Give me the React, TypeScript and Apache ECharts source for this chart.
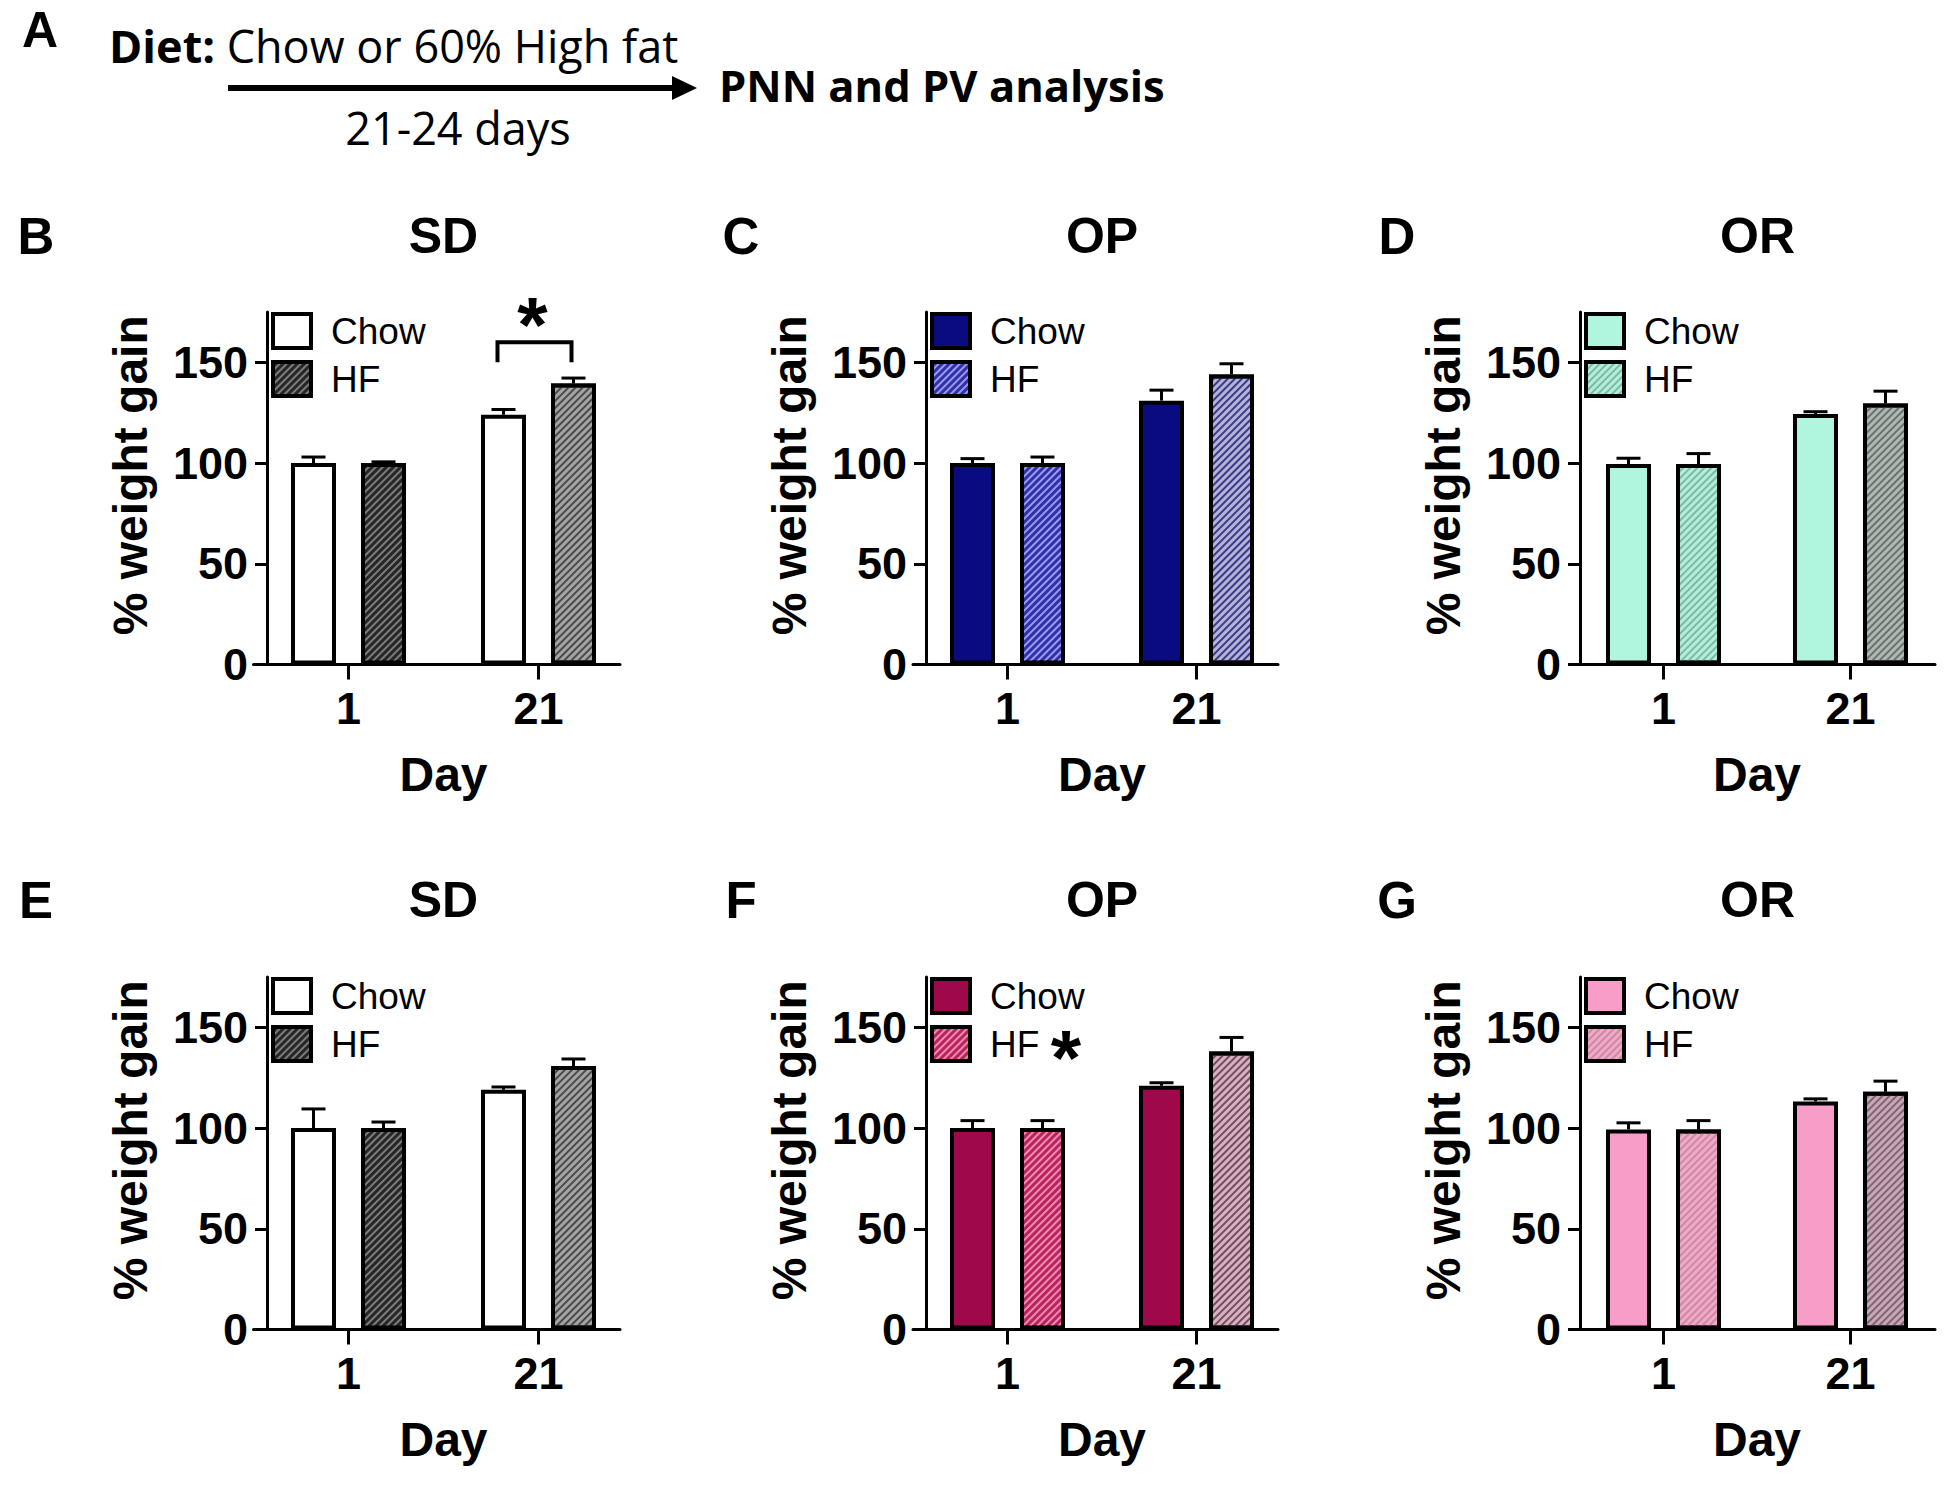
import React, { useEffect, useRef } from 'react';
import * as echarts from 'echarts';

// ---------------- data ----------------
const days = ['1', '21'];
const yTickValues = [0, 50, 100, 150];

const chowB = [100, 124];
const chowErrB = [3, 2.6];
const hfB = [100, 139.5];
const hfErrB = [0.6, 2.7];

const chowC = [100, 131];
const chowErrC = [2.2, 5.2];
const hfC = [100, 144];
const hfErrC = [3, 5.3];

const chowD = [99.5, 124.3];
const chowErrD = [2.9, 1.2];
const hfD = [99.5, 129.6];
const hfErrD = [5.2, 6.1];

const chowE = [100, 119];
const chowErrE = [9.5, 1.4];
const hfE = [100, 130.8];
const hfErrE = [3, 3.5];

const chowF = [100, 121];
const chowErrF = [3.7, 1.5];
const hfF = [100, 138];
const hfErrF = [3.7, 7];

const chowG = [99.3, 113.2];
const chowErrG = [3.3, 1.3];
const hfG = [99.3, 118];
const hfErrG = [4.4, 5.3];

// colours: chow fill, HF background per day, HF stripe per day
const sdChow = ['#ffffff', '#ffffff'];
const sdHfBg = ['#262626', '#a4a4a4'];
const sdHfStripe = ['#7c7c7c', '#4a4a4a'];
const opHfdChow = ['#0b0b80', '#0b0b80'];
const opHfdHfBg = ['#3030a8', '#b4b4d8'];
const opHfdHfStripe = ['#9a9af0', '#3a3a88'];
const orHfdChow = ['#b0f5de', '#b0f5de'];
const orHfdHfBg = ['#b0f0da', '#b0b8b4'];
const orHfdHfStripe = ['#80b8a4', '#6a726e'];
const opHfsChow = ['#a0084c', '#a0084c'];
const opHfsHfBg = ['#b8245e', '#d4b4c2'];
const opHfsHfStripe = ['#f08ab0', '#7a4a60'];
const orHfsChow = ['#f89cc8', '#f89cc8'];
const orHfsHfBg = ['#f4a8c8', '#c8a8b8'];
const orHfsHfStripe = ['#c88aa4', '#7e6674'];

const PANELS = [
  { letter: 'B', title: 'SD', col: 0, row: 0, chow: chowB, chowErr: chowErrB, hf: hfB, hfErr: hfErrB, chowColor: sdChow, hfBg: sdHfBg, hfStripe: sdHfStripe },
  { letter: 'C', title: 'OP', col: 1, row: 0, chow: chowC, chowErr: chowErrC, hf: hfC, hfErr: hfErrC, chowColor: opHfdChow, hfBg: opHfdHfBg, hfStripe: opHfdHfStripe },
  { letter: 'D', title: 'OR', col: 2, row: 0, chow: chowD, chowErr: chowErrD, hf: hfD, hfErr: hfErrD, chowColor: orHfdChow, hfBg: orHfdHfBg, hfStripe: orHfdHfStripe },
  { letter: 'E', title: 'SD', col: 0, row: 1, chow: chowE, chowErr: chowErrE, hf: hfE, hfErr: hfErrE, chowColor: sdChow, hfBg: sdHfBg, hfStripe: sdHfStripe },
  { letter: 'F', title: 'OP', col: 1, row: 1, chow: chowF, chowErr: chowErrF, hf: hfF, hfErr: hfErrF, chowColor: opHfsChow, hfBg: opHfsHfBg, hfStripe: opHfsHfStripe },
  { letter: 'G', title: 'OR', col: 2, row: 1, chow: chowG, chowErr: chowErrG, hf: hfG, hfErr: hfErrG, chowColor: orHfsChow, hfBg: orHfsHfBg, hfStripe: orHfsHfStripe },
];

// ---------------- layout ----------------
const W = 1950;
const H = 1487;
const COLS = [
  { axisX: 267, left: 253.5, step: 190, lineEnd: 620, letterX: 36 },
  { axisX: 926, left: 913, step: 189, lineEnd: 1278, letterX: 741 },
  { axisX: 1580, left: 1570, step: 187, lineEnd: 1935, letterX: 1397 },
];
const ROWS = [
  { top: 312, bottom: 664.5, titleY: 236 },
  { top: 977, bottom: 1329.5, titleY: 900 },
];
const BAR_W = 45;
const BAR_OFFSET = 35;
const CAP = 12;
const FONT = 'Liberation Sans, Arial, Helvetica, sans-serif';
const FONT_A = 'Open Sans, Lato, sans-serif';
const STAR = 78;

const hatch = (color: string) => ({
  symbol: 'rect',
  symbolSize: 1,
  color,
  dashArrayX: [1, 0],
  dashArrayY: [1.3, 2.4],
  rotation: -Math.PI / 4,
});

function buildOption() {
  const grid: any[] = [];
  const xAxis: any[] = [];
  const yAxis: any[] = [];
  const series: any[] = [];
  const legend: any[] = [];
  const n = PANELS.length;

  PANELS.forEach((p, i) => {
    const c = COLS[p.col];
    const r = ROWS[p.row];
    grid[i] = { left: c.left, top: r.top, width: c.step * 2, height: r.bottom - r.top, containLabel: false };
    grid[n + i] = { left: c.left, top: r.top, width: c.lineEnd - c.left, height: r.bottom - r.top, containLabel: false };

    xAxis[i] = {
      type: 'category',
      gridIndex: i,
      data: days,
      axisLine: { show: false },
      axisTick: { show: true, alignWithLabel: true, length: 15, lineStyle: { color: '#000', width: 3 } },
      axisLabel: { fontSize: 45, fontWeight: 'bold', color: '#000', fontFamily: FONT, margin: 21 },
      name: 'Day',
      nameLocation: 'middle',
      nameGap: 86,
      nameTextStyle: { fontSize: 48, fontWeight: 'bold', color: '#000', fontFamily: FONT },
      splitLine: { show: false },
    };
    xAxis[n + i] = {
      type: 'value',
      gridIndex: n + i,
      min: 0,
      max: 1,
      axisLine: { show: true, onZero: false, lineStyle: { color: '#000', width: 3 } },
      axisTick: { show: false },
      axisLabel: { show: false },
      splitLine: { show: false },
    };
    yAxis[i] = {
      type: 'value',
      gridIndex: i,
      min: 0,
      max: 175,
      interval: 50,
      offset: -(c.axisX - c.left),
      axisLine: { show: true, lineStyle: { color: '#000', width: 3 } },
      axisTick: { show: true, length: 12, lineStyle: { color: '#000', width: 3 }, customValues: yTickValues },
      axisLabel: { fontSize: 45, fontWeight: 'bold', color: '#000', fontFamily: FONT, margin: 19, customValues: yTickValues },
      splitLine: { show: false },
      name: '% weight gain',
      nameLocation: 'middle',
      nameGap: 113,
      nameTextStyle: { fontSize: 48, fontWeight: 'bold', color: '#000', fontFamily: FONT, padding: [0, 0, 0, 26] },
    };
    yAxis[n + i] = { type: 'value', gridIndex: n + i, show: false, min: 0, max: 1 };

    const chowName = p.letter + ':Chow';
    const hfName = p.letter + ':HF';
    series.push({
      type: 'bar',
      name: chowName,
      xAxisIndex: i,
      yAxisIndex: i,
      barWidth: BAR_W,
      barGap: ((BAR_OFFSET * 2 - BAR_W) / BAR_W * 100).toFixed(1) + '%',
      itemStyle: { color: p.chowColor[0], borderColor: '#000', borderWidth: 4 },
      data: p.chow.map((v, j) => ({ value: v, itemStyle: { color: p.chowColor[j] } })),
      z: 2,
    });
    series.push({
      type: 'bar',
      name: hfName,
      xAxisIndex: i,
      yAxisIndex: i,
      barWidth: BAR_W,
      itemStyle: { color: p.hfBg[0], decal: hatch(p.hfStripe[0]), borderColor: '#000', borderWidth: 4 },
      data: p.hf.map((v, j) => ({ value: v, itemStyle: { color: p.hfBg[j], decal: hatch(p.hfStripe[j]) } })),
      z: 2,
    });
    const errSeries = (vals: number[], errs: number[], side: number, name: string) => ({
      type: 'custom',
      name,
      xAxisIndex: i,
      yAxisIndex: i,
      z: 3,
      silent: true,
      encode: { x: 0, y: 1 },
      data: vals.map((v, j) => [j, v, errs[j]]),
      renderItem: (params: any, api: any) => {
        const idx = api.value(0);
        const v = api.value(1);
        const e = api.value(2);
        const base = api.coord([idx, v]);
        const top = api.coord([idx, v + e]);
        const x = base[0] + side * BAR_OFFSET;
        return {
          type: 'group',
          children: [
            { type: 'line', shape: { x1: x, y1: base[1], x2: x, y2: top[1] }, style: { stroke: '#000', lineWidth: 3 } },
            { type: 'line', shape: { x1: x - CAP, y1: top[1], x2: x + CAP, y2: top[1] }, style: { stroke: '#000', lineWidth: 3 } },
          ],
        };
      },
    });
    series.push(errSeries(p.chow, p.chowErr, -1, p.letter + ':errChow'));
    series.push(errSeries(p.hf, p.hfErr, 1, p.letter + ':errHF'));

    legend.push({
      data: [chowName, hfName],
      orient: 'vertical',
      left: c.axisX + 4,
      top: r.top,
      itemWidth: 38,
      itemHeight: 34,
      itemGap: 10,
      icon: 'rect',
      selectedMode: false,
      padding: 0,
      itemStyle: { borderColor: '#000', borderWidth: 4 },
      formatter: (name: string) => name.split(':')[1],
      textStyle: { fontSize: 37, color: '#000', fontFamily: FONT, padding: [0, 0, 0, 15] },
    });
  });

  return { grid, xAxis, yAxis, series, legend };
}

function staticGraphics() {
  const els: any[] = [];
  // Panel A
  els.push({ type: 'text', x: 40, y: 30, style: { text: 'A', fontSize: 50, fontWeight: 'bold', fontFamily: FONT, fill: '#000', textAlign: 'center', textVerticalAlign: 'middle' } });
  els.push({
    type: 'text', x: 109, y: 45,
    style: {
      text: '{b|Diet:} Chow or 60% High fat', fontSize: 45, fontFamily: FONT_A, fill: '#000',
      textAlign: 'left', textVerticalAlign: 'middle',
      rich: { b: { fontSize: 45, fontWeight: 'bold', fontFamily: FONT_A, fill: '#000' } },
    },
  });
  els.push({ type: 'line', shape: { x1: 228, y1: 88, x2: 680, y2: 88 }, style: { stroke: '#000', lineWidth: 6 } });
  els.push({ type: 'polygon', shape: { points: [[672, 76], [697, 88], [672, 100]] }, style: { fill: '#000' } });
  els.push({ type: 'text', x: 719, y: 85, style: { text: 'PNN and PV analysis', fontSize: 43.5, fontWeight: 'bold', fontFamily: FONT_A, fill: '#000', textAlign: 'left', textVerticalAlign: 'middle' } });
  els.push({ type: 'text', x: 458, y: 127, style: { text: '21-24 days', fontSize: 45, fontFamily: FONT_A, fill: '#000', textAlign: 'center', textVerticalAlign: 'middle' } });

  PANELS.forEach((p) => {
    const c = COLS[p.col];
    const r = ROWS[p.row];
    els.push({ type: 'text', x: c.letterX, y: r.titleY, style: { text: p.letter, fontSize: 51, fontWeight: 'bold', fontFamily: FONT, fill: '#000', textAlign: 'center', textVerticalAlign: 'middle' } });
    els.push({ type: 'text', x: (c.axisX + c.lineEnd) / 2, y: r.titleY, style: { text: p.title, fontSize: 50, fontWeight: 'bold', fontFamily: FONT, fill: '#000', textAlign: 'center', textVerticalAlign: 'middle' } });
  });
  // star beside the HF legend entry of panel F
  els.push({ type: 'text', x: COLS[1].axisX + 140, y: ROWS[1].top + 62 + 0.24 * STAR, style: { text: '*', fontSize: STAR, fontWeight: 'bold', fontFamily: FONT, fill: '#000', textAlign: 'center', textVerticalAlign: 'middle' } });
  return els;
}

export default function App() {
  const ref = useRef<HTMLDivElement>(null);
  useEffect(() => {
    document.body.style.margin = '0';
    if (!ref.current) return;
    const chart = echarts.init(ref.current, undefined, { renderer: 'svg', width: W, height: H });
    const base = buildOption();
    chart.setOption({ animation: false, backgroundColor: '#ffffff', textStyle: { fontFamily: FONT }, ...base });

    // significance bracket in panel B (day 21), positioned through the axes
    const legPt = chart.convertToPixel({ gridIndex: 0 } as any, [1, 150]) as number[];
    const topPt = chart.convertToPixel({ gridIndex: 0 } as any, [1, 160]) as number[];
    const starPt = chart.convertToPixel({ gridIndex: 0 } as any, [1, 178]) as number[];
    const cx = legPt[0];
    const els = staticGraphics();
    els.push({
      type: 'polyline',
      shape: { points: [[cx - 41, legPt[1]], [cx - 41, topPt[1]], [cx + 33, topPt[1]], [cx + 33, legPt[1]]] },
      style: { stroke: '#000', lineWidth: 4, fill: 'none' },
    });
    els.push({ type: 'text', x: cx - 6, y: starPt[1] + 0.24 * STAR, style: { text: '*', fontSize: STAR, fontWeight: 'bold', fontFamily: FONT, fill: '#000', textAlign: 'center', textVerticalAlign: 'middle' } });
    chart.setOption({ graphic: { elements: els } });

    return () => chart.dispose();
  }, []);
  return <div ref={ref} style={{ width: W, height: H }} />;
}
